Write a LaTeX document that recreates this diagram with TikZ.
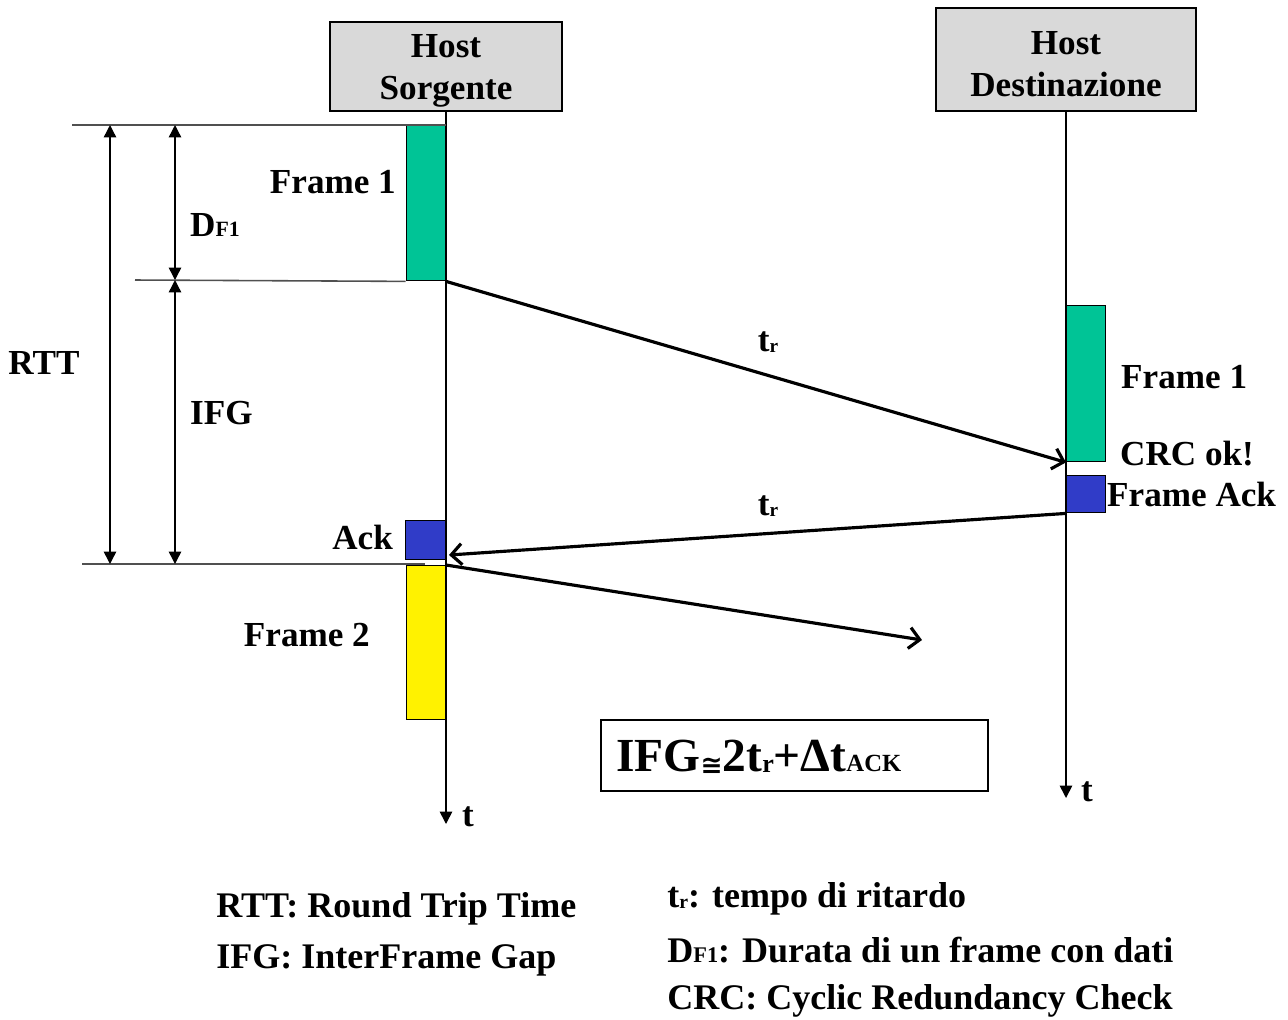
\documentclass[tikz,border=0pt]{standalone}
\usepackage{fontspec}
\usepackage{graphicx}
\setmainfont{Liberation Serif}
\newfontfamily\symbfont{DejaVu Sans}
\usetikzlibrary{arrows.meta}

\definecolor{framegreen}{RGB}{0,196,150}
\definecolor{ackblue}{RGB}{48,60,200}
\definecolor{hostgray}{RGB}{217,217,217}
\definecolor{guidegray}{RGB}{80,80,80}

% t with a small r: delay time
\newcommand{\tdelay}{t\raisebox{-0.05ex}{\scalebox{0.55}{r}}}
% D with small F1: frame duration
\newcommand{\dframe}{D\scalebox{0.62}{F1}}

\begin{document}
\begin{tikzpicture}[x=0.02cm, y=-0.02cm,
    font=\fontsize{20}{24}\selectfont\bfseries,
    host/.style={draw, fill=hostgray, line width=0.8pt, align=center, inner sep=0pt},
    frame/.style={draw, line width=0.8pt, minimum width=0.78cm, inner sep=0pt},
    timeline/.style={line width=0.9pt, -{Triangle[width=7pt,length=7pt]}},
    guide/.style={draw=guidegray, line width=0.9pt},
    dim/.style={line width=0.8pt, {Triangle[width=7pt,length=7pt]}-{Triangle[width=7pt,length=7pt]}},
    msg/.style={line width=1.8pt, -{Straight Barb[length=6pt,width=12pt]}},
    legend/.style={anchor=west, inner sep=0pt, font=\fontsize{20.5}{24}\selectfont\bfseries}]
    \useasboundingbox (0,0) rectangle (1288,1019);

    % hosts and time axes
    \node[host, minimum width=4.64cm, minimum height=1.78cm] (src) at (446,66.5) {\\[-6pt]Host\\Sorgente};
    \node[host, minimum width=5.2cm, minimum height=2.06cm] (dst) at (1066,59.5) {\\[-6pt]Host\\Destinazione};
    \coordinate (srcend) at (446,824);
    \coordinate (dstend) at (1066,798);
    \draw[timeline] (src.south) -- (srcend);
    \draw[timeline] (dst.south) -- (dstend);
    \node (tsrc) at (468,817) {t};
    \node (tdst) at (1087,792) {t};

    % frames on the source side
    \node[frame, fill=framegreen, minimum height=3.1cm, anchor=north east] (f1src) at (446,125) {};
    \node[frame, fill=ackblue, minimum width=0.8cm, minimum height=0.78cm, anchor=north east] (acksrc) at (446,520) {};
    \node[frame, fill=yellow, minimum height=3.08cm, anchor=north east] (f2src) at (446,565) {};
    \node[anchor=east] (lf1src) at (402,182) {Frame 1};
    \node[anchor=east] (lacksrc) at (399,537) {Ack};
    \node[anchor=east] (lf2src) at (376,635) {Frame 2};

    % frames on the destination side
    \node[frame, fill=framegreen, minimum height=3.12cm, anchor=north west] (f1dst) at (1066,305) {};
    \node[frame, fill=ackblue, minimum height=0.74cm, anchor=north west] (ackdst) at (1066,475) {};
    \node[anchor=west] (lf1dst) at (1115,377) {Frame 1};
    \node[anchor=west] (lcrc) at (1114,454) {CRC ok!};
    \node[anchor=west] (lackdst) at (1101,494) {Frame Ack};

    % guide lines
    \coordinate (gA) at (72,125);
    \coordinate (gB) at (135,280);
    \coordinate (gC) at (82,564);
    \draw[guide] (gA) -- (f1src.north east);
    \draw[guide] (gB) -- (f1src.south west);
    \draw[guide] (gC) -- (425,564);

    % dimensions
    \coordinate (rttA) at (110,125);
    \coordinate (rttC) at (110,564);
    \coordinate (dimA) at (175,125);
    \coordinate (dimB) at (175,280);
    \coordinate (dimC) at (175,564);
    \draw[dim] (rttA) -- (rttC);
    \draw[dim] (dimA) -- (dimB);
    \draw[dim] (dimB) -- (dimC);
    \node (lrtt) at (44,363) {RTT};
    \node[anchor=west] (ldf) at (184,225) {\dframe};
    \node[anchor=west] (lifg) at (184,413) {IFG};

    % messages
    \coordinate (ackend) at (449,555);
    \coordinate (f2end) at (922,640);
    \draw[msg] (f1src.south east) -- (f1dst.south west);
    \draw[msg] (ackdst.south west) -- (ackend);
    \draw[msg] (f2src.north east) -- (f2end);
    \node (ltr1) at (768,342) {\tdelay};
    \node (ltr2) at (768,506) {\tdelay};

    % formula
    \node[draw, line width=0.8pt, minimum width=7.74cm, minimum height=1.42cm] (ifgbox) at (794.5,755.5) {};
    \node[anchor=west, inner sep=0pt, font=\fontsize{27}{30}\selectfont\bfseries] (ifgtext) at (616,757)
        {IFG\raisebox{-0.15ex}{\symbfont\fontsize{15}{15}\selectfont ≅}2\tdelay+Δt\scalebox{0.52}{ACK}};

    % legend
    \node[legend] (leg1) at (216,909) {RTT: Round Trip Time};
    \node[legend] (leg2) at (216,960) {IFG: InterFrame Gap};
    \node[legend] (leg3) at (667,899) {\tdelay: tempo di ritardo};
    \node[legend] (leg4) at (667,950) {\dframe: Durata di un frame con dati};
    \node[legend] (leg5) at (667,1001) {CRC: Cyclic Redundancy Check};
\end{tikzpicture}
\end{document}
